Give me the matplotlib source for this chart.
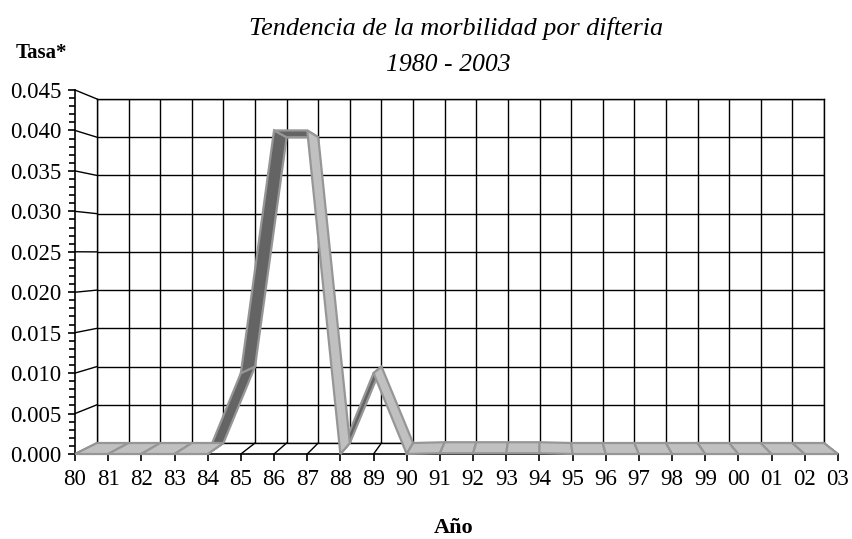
import numpy as np
import matplotlib.pyplot as plt
from matplotlib.ticker import MultipleLocator, FormatStrFormatter

# Tasa de morbilidad por difteria, 1980 - 2003
years = ["80", "81", "82", "83", "84", "85", "86", "87", "88", "89", "90", "91",
         "92", "93", "94", "95", "96", "97", "98", "99", "00", "01", "02", "03"]
tasa = [0.0, 0.0, 0.0, 0.0, 0.0, 0.010, 0.040, 0.040, 0.0, 0.010, 0.0, 0.0001,
        0.0001, 0.0001, 0.0001, 0.0, 0.0, 0.0, 0.0, 0.0, 0.0, 0.0, 0.0, 0.0]
y_ticks = [0.0, 0.005, 0.010, 0.015, 0.020, 0.025, 0.030, 0.035, 0.040, 0.045]

plt.rcParams['font.family'] = ['Liberation Serif', 'DejaVu Serif']

W, H = 853, 539
fig = plt.figure(figsize=(W / 100, H / 100), dpi=100)


def box(left, right, bottom, top):
    return [left / W, 1 - bottom / H, (right - left) / W, (bottom - top) / H]


x = np.arange(len(years))

# back wall (gridded)
back = fig.add_axes(box(97, 824, 443, 99), zorder=0)
back.set_xlim(0, len(years) - 1)
back.set_ylim(0, 0.045)
back.set_xticks(x)
back.set_yticks(y_ticks)
back.grid(True, color="black", lw=1)
back.tick_params(length=0, labelbottom=False, labelleft=False)
for s in back.spines.values():
    s.set_color("black")
    s.set_linewidth(1)

# front plane with the axes
front = fig.add_axes(box(75, 838, 454, 90), zorder=1)
front.patch.set_visible(False)
front.set_xlim(0, len(years) - 1)
front.set_ylim(0, 0.045)
front.spines["top"].set_visible(False)
front.spines["right"].set_visible(False)
front.spines["left"].set_linewidth(1.2)
front.spines["bottom"].set_linewidth(1.2)
front.set_xticks(x)
front.set_xticklabels(years)
front.yaxis.set_major_locator(MultipleLocator(0.005))
front.yaxis.set_minor_locator(MultipleLocator(0.001))
front.yaxis.set_major_formatter(FormatStrFormatter("%.3f"))
front.tick_params(axis="y", which="major", length=5, width=1.2, pad=5, labelsize=16.5)
front.tick_params(axis="y", which="minor", length=4, width=1.2)
front.tick_params(axis="x", length=5, width=1.2, pad=6, labelsize=16.5)

# map back wall coordinates into the front axes
to_front = back.transData + front.transData.inverted()

# depth lines on the left wall and the floor
for v in y_ticks:
    bx, by = to_front.transform([0, v])
    front.plot([0, bx], [v, by], color="black", lw=1, clip_on=False, zorder=1)
for i in x:
    bx, by = to_front.transform([i, 0])
    front.plot([i, bx], [0, by], color="black", lw=1, clip_on=False, zorder=1)

# ribbon
pts = np.column_stack([x, tasa])
back_pts = to_front.transform(pts)
fd = front.transData.transform(pts)
bd = back.transData.transform(pts)

dark, light = [], []
for i in range(len(years) - 1):
    d1 = fd[i + 1] - fd[i]
    d2 = (bd[i] - fd[i] + bd[i + 1] - fd[i + 1]) / 2
    c = d1[0] * d2[1] - d1[1] * d2[0]
    quad = np.array([pts[i], pts[i + 1], back_pts[i + 1], back_pts[i]])
    (light if c > 0 else dark).append(quad)

for quad in dark:
    front.fill(quad[:, 0], quad[:, 1], fc="#646464", ec="#969696", lw=1.6,
               clip_on=False, zorder=3)
for quad in light:
    front.fill(quad[:, 0], quad[:, 1], fc="#c0c0c0", ec="#969696", lw=1.6,
               clip_on=False, zorder=3)

# texts
fig.text(456 / W, 1 - 35 / H, "Tendencia de la morbilidad por difteria",
         ha="center", va="baseline", fontsize=18.8, style="italic")
fig.text(448 / W, 1 - 71 / H, "1980 - 2003",
         ha="center", va="baseline", fontsize=18.5, style="italic")
fig.text(16 / W, 1 - 58 / H, "Tasa*", ha="left", va="baseline",
         fontsize=15, weight="bold")
fig.text(454 / W, 1 - 533 / H, "Año", ha="center", va="baseline",
         fontsize=16, weight="bold")

fig.savefig("out.png", dpi=100)
